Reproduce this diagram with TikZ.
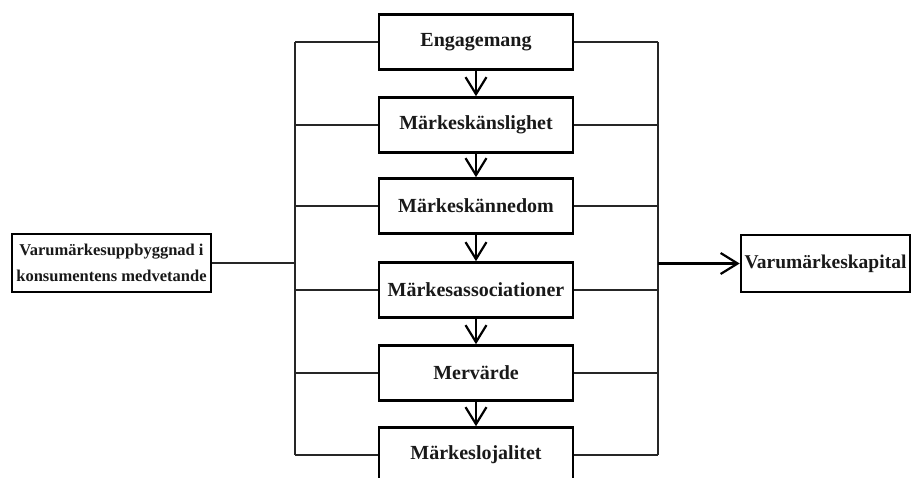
\documentclass[tikz,border=0pt]{standalone}
\usepackage{fontspec}
\setmainfont{Liberation Serif}
\usetikzlibrary{arrows.meta}
\begin{document}
\begin{tikzpicture}[x=1pt,y=-1pt,
  stepbox/.style={draw, line width=2.6pt, minimum width=194pt, minimum height=55pt, inner sep=0pt,
    font=\fontsize{20}{24}\selectfont\bfseries, text=black!90},
  sidebox/.style={draw, line width=2.6pt, inner sep=0pt, align=center,
    font=\fontsize{16.5}{26}\selectfont\bfseries, text=black!90},
  thin/.style={line width=1.2pt, black!85},
  flow/.style={line width=2.2pt, -{Straight Barb[length=17pt,width=21pt,line width=2.2pt]}}
]
\useasboundingbox (0,0) rectangle (912,478);
\node[stepbox] (b1) at (476,42) {Engagemang};
\node[stepbox] (b2) at (476,125) {Märkeskänslighet};
\node[stepbox] (b3) at (476,206) {Märkeskännedom};
\node[stepbox] (b4) at (476,290) {Märkesassociationer};
\node[stepbox] (b5) at (476,373) {Mervärde};
\node[stepbox] (b6) at (476,455) {Märkeslojalitet};
\node[sidebox, minimum width=199pt, minimum height=58pt] (lb) at (111.5,263) {Varumärkesuppbyggnad i\\konsumentens medvetande};
\node[sidebox, font=\fontsize{19.5}{24}\selectfont\bfseries, minimum width=169pt, minimum height=57pt] (rb) at (825.5,263.5) {Varumärkeskapital};
\coordinate (Lt) at (295,42);
\coordinate (Lb) at (295,455);
\coordinate (Rt) at (658,42);
\coordinate (Rb) at (658,455);
\draw[thin] (Lt) -- (Lb);
\draw[thin] (Rt) -- (Rb);
\foreach \b in {b1,b2,b3,b4,b5,b6}{
  \draw[thin] (\b.west) -- (\b.west -| Lt);
  \draw[thin] (\b.east) -- (\b.east -| Rt);
}
\draw[thin] (lb.east) -- (lb.east -| Lt);
\draw[flow] (rb.west -| Rt) -- (rb.west);
\draw[flow] (b1) -- (b2);
\draw[flow] (b2) -- (b3);
\draw[flow] (b3) -- (b4);
\draw[flow] (b4) -- (b5);
\draw[flow] (b5) -- (b6);
\end{tikzpicture}
\end{document}
